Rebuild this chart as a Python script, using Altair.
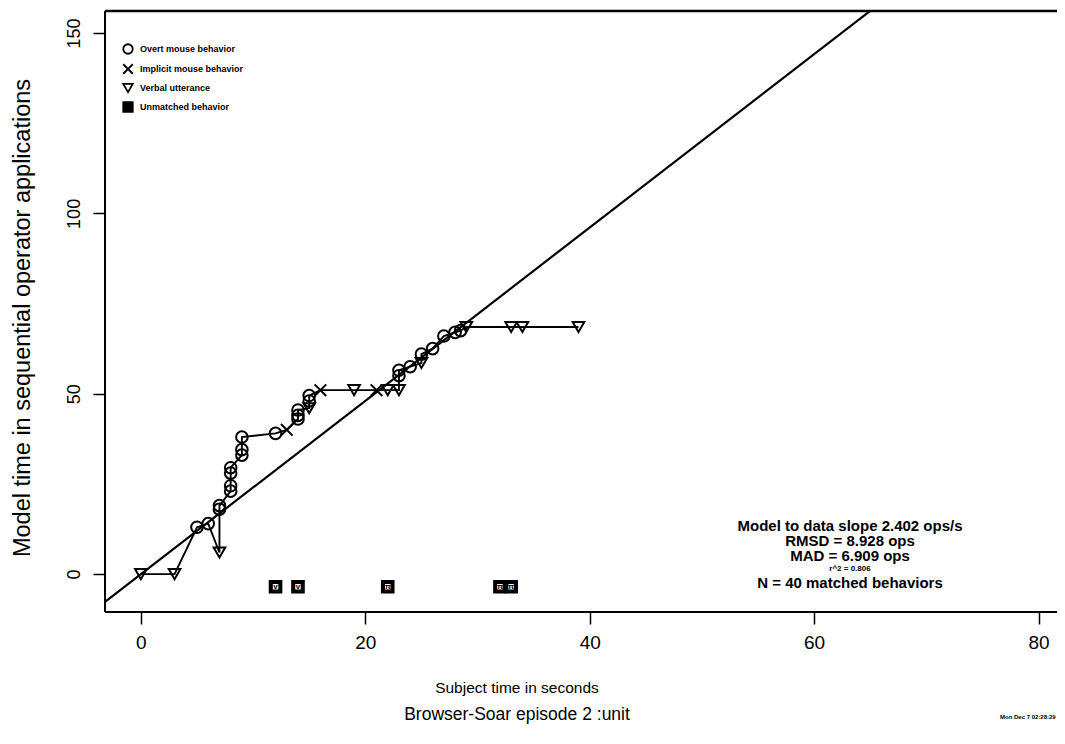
import altair as alt
import pandas as pd

# ---------------- data ----------------
subject_time = [0, 3, 5, 6, 7, 7, 7, 8, 8, 8, 8, 9, 9, 9, 12, 13, 14, 14, 14, 15,
                15, 15, 16, 19, 21, 22, 23, 23, 23, 24, 25, 25, 26, 27, 28, 28.5, 29, 33, 34, 39]
model_time = [0, 0, 13, 14, 6, 18, 19, 23, 24.5, 28, 29.5, 33, 34.5, 38, 39, 40, 43, 44, 45.5, 46,
              48, 49.5, 51, 51, 51, 51, 51, 55, 56.5, 57.5, 58.5, 61, 62.5, 66, 67, 67.5, 68.5, 68.5, 68.5, 68.5]
behavior_code = ["V", "V", "O", "O", "V", "O", "O", "O", "O", "O", "O", "O", "O", "O", "O", "X", "O", "O", "O", "V",
                 "O", "O", "X", "V", "X", "V", "V", "O", "O", "O", "V", "O", "O", "O", "O", "O", "V", "V", "V", "V"]

unmatched_time = [12, 14, 22, 32, 33]
unmatched_model = [-3.5, -3.5, -3.5, -3.5, -3.5]
unmatched_glyph = ["v", "v", "π", "π", "π"]

type_names = ["Overt mouse behavior", "Implicit mouse behavior", "Verbal utterance", "Unmatched behavior"]
code_to_name = {"O": type_names[0], "X": type_names[1], "V": type_names[2]}

slope = 2.402
x_ticks = [0, 20, 40, 60, 80]
y_ticks = [0, 50, 100, 150]

# ---------------- layout ----------------
W, H = 944, 601
PX_PER_X = 11.22
X_DOM = [-3.2, -3.2 + W / PX_PER_X]
Y_DOM = [-10.5, 156.1]
FONT = "Liberation Sans, Arial, sans-serif"

matched = pd.DataFrame({
    "t": subject_time,
    "m": model_time,
    "type": [code_to_name[c] for c in behavior_code],
    "idx": list(range(len(subject_time))),
})
unmatched = pd.DataFrame({
    "t": unmatched_time,
    "m": unmatched_model,
    "type": [type_names[3]] * len(unmatched_time),
    "g": unmatched_glyph,
})
points = pd.concat([matched[["t", "m", "type"]], unmatched[["t", "m", "type"]]], ignore_index=True)

fit = pd.DataFrame({"t": X_DOM})
fit["m"] = fit["t"] * slope

xs = alt.Scale(domain=X_DOM, nice=False, zero=False)
ys = alt.Scale(domain=Y_DOM, nice=False, zero=False)

xax = alt.Axis(values=x_ticks, tickSize=12, tickWidth=1.5, tickColor="black", domain=False, grid=False,
               labelFont=FONT, labelFontSize=19, labelColor="black", labelPadding=9, title=None)
yax = alt.Axis(values=y_ticks, tickSize=12, tickWidth=1.5, tickColor="black", domain=False, grid=False,
               labelFont=FONT, labelFontSize=18, labelColor="black", labelAngle=270, labelAlign="center",
               labelBaseline="alphabetic", labelPadding=14, title=None)

X = alt.X("t:Q", scale=xs, axis=xax)
Y = alt.Y("m:Q", scale=ys, axis=yax)

one = pd.DataFrame({"k": [0]})
frame_top = alt.Chart(one).mark_rule(color="black", strokeWidth=2.5).encode(
    x=alt.value(0), x2=alt.value(W + 10), y=alt.value(0))
frame_bottom = alt.Chart(one).mark_rule(color="black", strokeWidth=2).encode(
    x=alt.value(0), x2=alt.value(W + 10), y=alt.value(H))
frame_left = alt.Chart(one).mark_rule(color="black", strokeWidth=2).encode(
    x=alt.value(0), y=alt.value(0), y2=alt.value(H))

fit_line = alt.Chart(fit).mark_line(color="black", strokeWidth=2.2, clip=True).encode(x=X, y=Y)

path = alt.Chart(matched).mark_line(color="black", strokeWidth=1.9).encode(
    x="t:Q", y="m:Q", order="idx:Q")

xshape = "M-1,-1L1,1M1,-1L-1,1"
leg = alt.Legend(title=None, orient="none", legendX=17, legendY=32, padding=0,
                 labelFont=FONT, labelFontSize=9, labelFontWeight="bold",
                 labelColor="black", symbolSize=90, symbolStrokeColor="black",
                 symbolStrokeWidth=1.8, rowPadding=2, labelOffset=6)
pts = alt.Chart(points).mark_point(filled=False, color="black", strokeWidth=2, size=135, opacity=1).encode(
    x="t:Q", y="m:Q",
    shape=alt.Shape("type:N", scale=alt.Scale(domain=type_names,
                                               range=["circle", xshape, "triangle-down", "square"]),
                    legend=leg),
    fill=alt.Fill("type:N", scale=alt.Scale(domain=type_names,
                                             range=["transparent", "transparent", "transparent", "black"]),
                  legend=leg),
    stroke=alt.Stroke("type:N", scale=alt.Scale(domain=type_names,
                                                 range=["black", "black", "black", "black"]),
                      legend=leg),
)

inner = alt.Chart(unmatched).mark_square(color="white", size=30, opacity=1).encode(x="t:Q", y="m:Q")
glyphs = alt.Chart(unmatched).mark_text(font=FONT, fontSize=8, fontWeight="bold", color="black",
                                        baseline="middle").encode(x="t:Q", y="m:Q", text="g:N")


def label(txt, px, py, size, **kw):
    return alt.Chart(pd.DataFrame({"s": [txt]})).mark_text(
        font=FONT, fontSize=size, color="black", baseline="middle", **kw
    ).encode(text="s:N", x=alt.value(px), y=alt.value(py))


cx = 745
texts = [
    label("Model to data slope 2.402 ops/s", cx, 515, 15, fontWeight="bold"),
    label("RMSD =  8.928  ops", cx, 530, 15, fontWeight="bold"),
    label("MAD =  6.909  ops", cx, 545, 15, fontWeight="bold"),
    label("r^2 =  0.806", cx, 558, 8, fontWeight="bold"),
    label("N =  40  matched behaviors", cx, 572, 15, fontWeight="bold"),
    label("Subject time in seconds", 412, 677, 15.5),
    label("Browser-Soar episode 2 :unit", 412, 704, 17.5),
    label("Mon Dec 7 02:28:29", 895, 706, 6, align="left", fontWeight="bold"),
    label("Model time in sequential operator applications", -82, 307, 23.5, angle=270),
]

chart = alt.layer(frame_top, frame_bottom, frame_left, fit_line, path, pts, inner, glyphs, *texts).properties(
    width=W, height=H,
    autosize=alt.AutoSizeParams(type="none"),
    padding={"left": 97, "top": 3, "right": 8, "bottom": 116},
    background="white",
).configure_view(strokeWidth=0)

chart.save("out.html", embed_options={"renderer": "svg", "actions": False})
